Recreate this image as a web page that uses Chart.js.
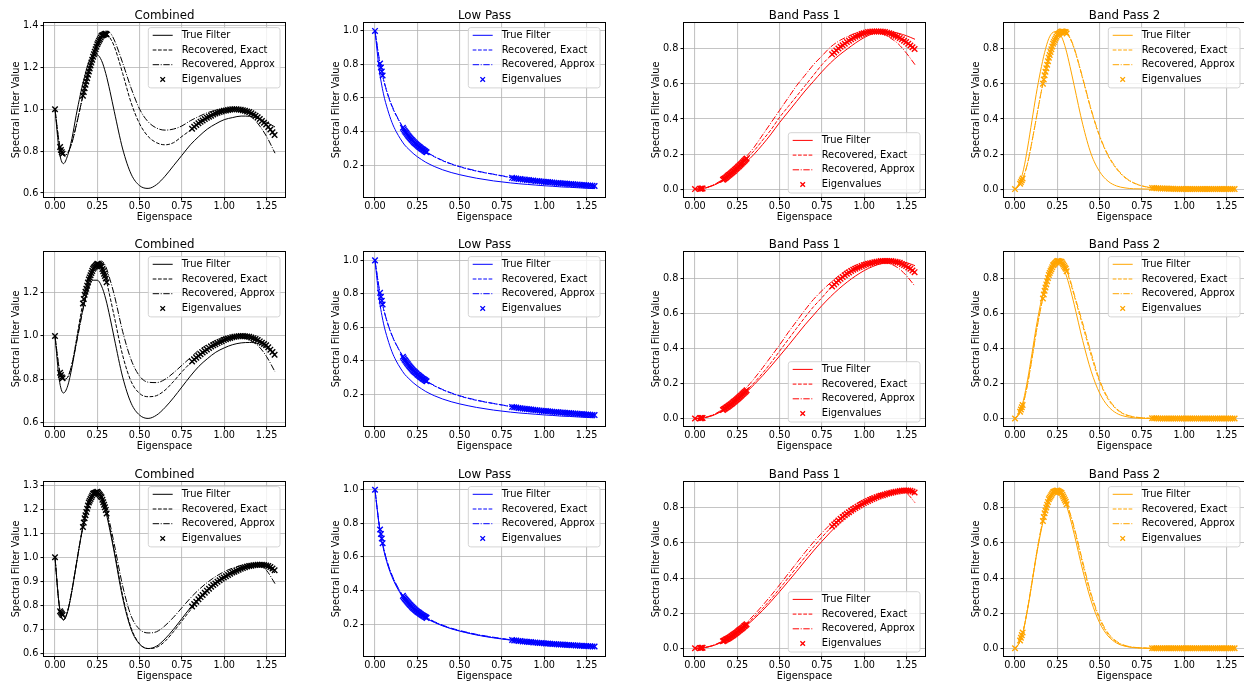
<!DOCTYPE html>
<html>
<head>
<meta charset="utf-8">
<script src="https://cdn.jsdelivr.net/npm/chart.js@4.4.1/dist/chart.umd.min.js"></script>
<style>
  html, body { margin: 0; padding: 0; background: #ffffff; }
  body { width: 1244px; height: 685px; overflow: hidden; position: relative; }
  canvas { position: absolute; }
</style>
</head>
<body>
<script>
// ---- sample grid for the filter curves ----
const XS = [0,0.025,0.05,0.075,0.1,0.125,0.15,0.175,0.2,0.225,0.25,0.275,0.3,0.325,0.35,0.4,0.45,0.5,0.55,0.6,0.65,0.7,0.75,0.8,0.85,0.9,0.95,1.0,1.05,1.1,1.15,1.2,1.25,1.3];

// ---- graph eigenvalues (shared by every panel) ----
const EIGENVALUES = [0, 0.03,0.035,0.04,0.045,
  0.165,0.17,0.175,0.18,0.185,0.19,0.195,0.2,0.205,0.21,0.215,0.22,0.225,0.23,0.235,
  0.24,0.245,0.25,0.255,0.26,0.265,0.27,0.275,0.28,0.285,0.29,0.295,0.3,0.305,
  0.81,0.8225,0.835,0.8475,0.86,0.8725,0.885,0.8975,0.91,0.9225,0.935,0.9475,0.96,0.9725,0.985,0.9975,
  1.01,1.0225,1.035,1.0475,1.06,1.0725,1.085,1.0975,1.11,1.1225,1.135,1.1475,1.16,1.1725,1.185,1.1975,
  1.21,1.2225,1.235,1.2475,1.26,1.2725,1.285,1.2975];

const X_TICKS = [0,0.25,0.5,0.75,1.0,1.25];
const TICKS_COMBINED_1 = [0.6,0.8,1.0,1.2,1.4];
const TICKS_COMBINED_2 = [0.6,0.8,1.0,1.2];
const TICKS_COMBINED_3 = [0.6,0.7,0.8,0.9,1.0,1.1,1.2,1.3];
const TICKS_LOW = [0.2,0.4,0.6,0.8,1.0];
const TICKS_BAND = [0.0,0.2,0.4,0.6,0.8];

// ---- row 1 ----
const combinedTrue1   = [1.0,0.80,0.74,0.78,0.86,0.97,1.07,1.155,1.225,1.257,1.258,1.232,1.17,1.085,0.99,0.81,0.69,0.635,0.622,0.64,0.68,0.73,0.78,0.83,0.87,0.905,0.93,0.95,0.96,0.967,0.966,0.955,0.937,0.915];
const combinedExact1  = [1.0,0.84,0.78,0.79,0.84,0.92,1.01,1.1,1.18,1.25,1.31,1.35,1.36,1.34,1.3,1.17,1.03,0.93,0.87,0.84,0.83,0.84,0.87,0.9,0.935,0.96,0.98,0.993,1.0,0.997,0.985,0.96,0.925,0.875];
const combinedApprox1 = [1.0,0.84,0.78,0.79,0.84,0.92,1.01,1.1,1.18,1.25,1.31,1.35,1.372,1.365,1.33,1.22,1.1,1.0,0.94,0.91,0.90,0.905,0.92,0.945,0.965,0.983,0.995,1.0,1.0,0.99,0.97,0.93,0.87,0.79];
const combinedEig1    = [1.0, 0.82,0.805,0.795,0.787,
  1.064,1.082,1.10,1.116,1.132,1.148,1.164,1.18,1.194,1.208,1.222,1.236,1.25,1.262,1.274,
  1.286,1.298,1.31,1.318,1.326,1.334,1.342,1.35,1.352,1.354,1.356,1.358,1.36,1.356,
  0.907,0.916,0.925,0.933,0.94,0.946,0.953,0.959,0.964,0.969,0.974,0.979,0.983,0.986,0.989,0.992,
  0.994,0.996,0.998,1.0,1.0,0.999,0.998,0.997,0.995,0.992,0.989,0.986,0.98,0.974,0.968,0.961,
  0.953,0.944,0.935,0.927,0.915,0.903,0.89,0.877];

const lowTrue1   = [1.0,0.77,0.625,0.53,0.455,0.40,0.357,0.32,0.294,0.27,0.25,0.233,0.217,0.204,0.192,0.172,0.156,0.143,0.132,0.122,0.114,0.106,0.1,0.094,0.089,0.085,0.081,0.077,0.074,0.07,0.068,0.065,0.062,0.06];
const lowExact1  = [1.0,0.83,0.71,0.62,0.55,0.495,0.45,0.405,0.37,0.342,0.318,0.298,0.28,0.264,0.25,0.226,0.206,0.19,0.176,0.164,0.154,0.145,0.135,0.126,0.118,0.112,0.106,0.101,0.096,0.092,0.088,0.084,0.08,0.076];
const lowApprox1 = [1.0,0.835,0.715,0.625,0.555,0.5,0.452,0.408,0.372,0.344,0.32,0.3,0.282,0.266,0.252,0.228,0.208,0.192,0.178,0.166,0.155,0.146,0.137,0.128,0.12,0.113,0.107,0.102,0.097,0.093,0.089,0.085,0.081,0.077];
const lowEig1    = [1.0, 0.806,0.782,0.758,0.734,
  0.423,0.414,0.405,0.398,0.391,0.384,0.377,0.37,0.364,0.359,0.353,0.348,0.342,0.337,0.332,
  0.328,0.323,0.318,0.314,0.31,0.306,0.302,0.298,0.294,0.291,0.287,0.284,0.28,0.277,
  0.124,0.122,0.12,0.118,0.117,0.115,0.114,0.112,0.111,0.109,0.108,0.106,0.105,0.104,0.102,0.101,
  0.1,0.099,0.098,0.096,0.095,0.094,0.093,0.092,0.091,0.09,0.089,0.088,0.087,0.086,0.085,0.084,
  0.083,0.082,0.081,0.08,0.079,0.078,0.077,0.076];

const band1True1   = [0,0.001,0.004,0.01,0.018,0.028,0.04,0.055,0.072,0.09,0.11,0.13,0.152,0.175,0.2,0.255,0.315,0.38,0.44,0.5,0.56,0.615,0.67,0.72,0.763,0.8,0.835,0.865,0.887,0.9,0.898,0.89,0.875,0.855];
const band1Exact1  = [0,0.001,0.004,0.01,0.02,0.03,0.045,0.06,0.08,0.1,0.122,0.145,0.17,0.195,0.22,0.28,0.34,0.41,0.47,0.53,0.59,0.65,0.71,0.76,0.805,0.84,0.87,0.89,0.9,0.9,0.89,0.87,0.84,0.8];
const band1Approx1 = [0,0.001,0.004,0.011,0.02,0.032,0.047,0.064,0.085,0.107,0.13,0.156,0.183,0.21,0.24,0.31,0.38,0.45,0.52,0.59,0.65,0.71,0.76,0.81,0.845,0.87,0.89,0.9,0.9,0.89,0.865,0.83,0.775,0.71];
const band1Eig1    = [0, 0.002,0.002,0.003,0.003,
  0.054,0.057,0.06,0.064,0.068,0.072,0.076,0.08,0.084,0.088,0.092,0.096,0.1,0.104,0.109,
  0.113,0.118,0.122,0.127,0.131,0.136,0.14,0.145,0.15,0.155,0.16,0.165,0.17,0.175,
  0.769,0.78,0.791,0.802,0.812,0.821,0.83,0.839,0.847,0.855,0.862,0.869,0.875,0.88,0.885,0.89,
  0.893,0.896,0.898,0.9,0.9,0.9,0.9,0.9,0.898,0.896,0.893,0.89,0.885,0.88,0.875,0.869,
  0.862,0.855,0.847,0.839,0.83,0.82,0.81,0.8];

const band2True1   = [0,0.03,0.11,0.24,0.39,0.54,0.67,0.78,0.86,0.895,0.9,0.87,0.8,0.7,0.59,0.37,0.2,0.1,0.045,0.018,0.007,0.002,0.001,0,0,0,0,0,0,0,0,0,0,0];
const band2Exact1  = [0,0.02,0.07,0.15,0.27,0.4,0.53,0.65,0.75,0.83,0.88,0.9,0.895,0.86,0.8,0.63,0.45,0.3,0.19,0.115,0.065,0.035,0.018,0.008,0.004,0.002,0.001,0,0,0,0,0,0,0];
const band2Approx1 = [0,0.02,0.07,0.15,0.27,0.4,0.53,0.65,0.75,0.83,0.88,0.9,0.898,0.865,0.805,0.635,0.455,0.305,0.195,0.12,0.068,0.037,0.019,0.009,0.004,0.002,0.001,0,0,0,0,0,0,0];
const band2Eig1    = [0, 0.03,0.04,0.05,0.06,
  0.602,0.626,0.65,0.67,0.69,0.71,0.73,0.75,0.766,0.782,0.798,0.814,0.83,0.84,0.85,
  0.86,0.87,0.88,0.884,0.888,0.892,0.896,0.9,0.899,0.898,0.897,0.896,0.895,0.888,
  0.007,0.006,0.005,0.005,0.004,0.004,0.003,0.003,0.002,0.002,0.002,0.001,0.001,0.001,0.001,0.001,
  0,0,0,0,0,0,0,0,0,0,0,0,0,0,0,0,
  0,0,0,0,0,0,0,0];

// ---- row 2 ----
const combinedTrue2   = [1.0,0.80,0.737,0.77,0.855,0.965,1.07,1.155,1.225,1.257,1.257,1.23,1.17,1.085,0.99,0.81,0.69,0.635,0.62,0.635,0.67,0.715,0.765,0.815,0.86,0.895,0.925,0.945,0.96,0.968,0.97,0.965,0.945,0.915];
const combinedExact2  = [1.0,0.85,0.80,0.81,0.87,0.975,1.09,1.19,1.26,1.31,1.333,1.32,1.265,1.18,1.09,0.91,0.79,0.735,0.72,0.725,0.75,0.79,0.835,0.875,0.91,0.94,0.965,0.983,0.995,1.0,0.995,0.98,0.955,0.91];
const combinedApprox2 = [1.0,0.85,0.80,0.81,0.87,0.96,1.06,1.16,1.24,1.3,1.335,1.345,1.32,1.26,1.19,1.02,0.89,0.815,0.787,0.785,0.8,0.83,0.865,0.9,0.935,0.96,0.98,0.995,1.0,0.995,0.98,0.955,0.905,0.835];
const combinedEig2    = [1.0, 0.83,0.82,0.81,0.805,
  1.15,1.17,1.19,1.204,1.218,1.232,1.246,1.26,1.27,1.28,1.29,1.30,1.31,1.315,1.319,
  1.324,1.328,1.333,1.33,1.328,1.325,1.323,1.32,1.309,1.298,1.287,1.276,1.265,1.248,
  0.882,0.891,0.9,0.908,0.916,0.924,0.931,0.938,0.945,0.951,0.957,0.962,0.967,0.972,0.976,0.981,
  0.985,0.988,0.991,0.994,0.996,0.998,0.999,1.0,1.0,0.999,0.998,0.996,0.993,0.99,0.986,0.981,
  0.975,0.969,0.963,0.957,0.948,0.937,0.926,0.913];

const lowTrue2   = [1.0,0.77,0.625,0.53,0.455,0.40,0.357,0.32,0.294,0.27,0.25,0.233,0.217,0.204,0.192,0.172,0.156,0.143,0.132,0.122,0.114,0.106,0.1,0.094,0.089,0.085,0.081,0.077,0.074,0.07,0.068,0.065,0.062,0.06];
const lowExact2  = [1.0,0.83,0.712,0.622,0.552,0.497,0.451,0.407,0.372,0.343,0.319,0.299,0.281,0.265,0.251,0.227,0.207,0.19,0.176,0.164,0.154,0.145,0.136,0.127,0.119,0.112,0.106,0.101,0.096,0.092,0.088,0.084,0.08,0.076];
const lowApprox2 = [1.0,0.832,0.714,0.624,0.554,0.499,0.453,0.409,0.374,0.345,0.321,0.301,0.283,0.267,0.253,0.229,0.209,0.192,0.178,0.166,0.155,0.146,0.137,0.128,0.12,0.113,0.107,0.102,0.097,0.093,0.089,0.085,0.081,0.077];
const lowEig2    = [1.0, 0.806,0.783,0.759,0.736,
  0.425,0.416,0.407,0.4,0.393,0.386,0.379,0.372,0.366,0.36,0.355,0.349,0.343,0.338,0.333,
  0.329,0.324,0.319,0.315,0.311,0.307,0.303,0.299,0.295,0.292,0.288,0.285,0.281,0.278,
  0.125,0.123,0.121,0.119,0.117,0.115,0.114,0.112,0.111,0.109,0.108,0.106,0.105,0.104,0.102,0.101,
  0.1,0.099,0.098,0.096,0.095,0.094,0.093,0.092,0.091,0.09,0.089,0.088,0.087,0.086,0.085,0.084,
  0.083,0.082,0.081,0.08,0.079,0.078,0.077,0.076];

const band1True2   = [0,0.001,0.003,0.008,0.015,0.025,0.037,0.051,0.067,0.085,0.104,0.125,0.147,0.17,0.194,0.245,0.3,0.357,0.415,0.475,0.535,0.59,0.645,0.695,0.74,0.78,0.815,0.845,0.868,0.885,0.895,0.897,0.89,0.873];
const band1Exact2  = [0,0.001,0.004,0.009,0.017,0.027,0.04,0.055,0.072,0.091,0.111,0.133,0.156,0.18,0.205,0.26,0.32,0.385,0.45,0.515,0.578,0.638,0.69,0.745,0.79,0.827,0.856,0.877,0.891,0.899,0.9,0.893,0.87,0.835];
const band1Approx2 = [0,0.001,0.004,0.01,0.019,0.03,0.044,0.06,0.079,0.1,0.122,0.146,0.172,0.199,0.228,0.29,0.355,0.42,0.49,0.555,0.62,0.68,0.73,0.775,0.815,0.85,0.875,0.892,0.9,0.898,0.885,0.86,0.815,0.755];
const band1Eig2    = [0, 0.002,0.002,0.003,0.003,
  0.049,0.052,0.055,0.058,0.062,0.065,0.069,0.072,0.076,0.08,0.083,0.087,0.091,0.095,0.099,
  0.103,0.107,0.111,0.115,0.12,0.124,0.129,0.133,0.138,0.142,0.147,0.151,0.156,0.161,
  0.754,0.766,0.777,0.788,0.798,0.808,0.818,0.827,0.834,0.842,0.849,0.855,0.861,0.866,0.871,0.876,
  0.88,0.884,0.887,0.89,0.893,0.895,0.897,0.899,0.899,0.9,0.9,0.9,0.899,0.897,0.895,0.893,
  0.889,0.883,0.877,0.871,0.863,0.855,0.845,0.836];

const band2True2   = [0,0.03,0.105,0.225,0.37,0.52,0.65,0.76,0.845,0.89,0.9,0.88,0.825,0.745,0.65,0.445,0.27,0.145,0.07,0.03,0.012,0.004,0.001,0,0,0,0,0,0,0,0,0,0,0];
const band2Exact2  = [0,0.025,0.09,0.2,0.34,0.49,0.62,0.73,0.82,0.875,0.9,0.895,0.855,0.785,0.7,0.53,0.36,0.21,0.11,0.052,0.022,0.009,0.003,0.001,0,0,0,0,0,0,0,0,0,0];
const band2Approx2 = [0,0.025,0.09,0.2,0.34,0.49,0.62,0.73,0.82,0.875,0.9,0.897,0.86,0.795,0.71,0.545,0.375,0.22,0.117,0.056,0.024,0.01,0.004,0.001,0,0,0,0,0,0,0,0,0,0];
const band2Eig2    = [0, 0.038,0.051,0.064,0.077,
  0.686,0.708,0.73,0.748,0.766,0.784,0.802,0.82,0.831,0.842,0.853,0.864,0.875,0.88,0.885,
  0.89,0.895,0.9,0.899,0.898,0.897,0.896,0.895,0.887,0.879,0.871,0.863,0.855,0.841,
  0.001,0.001,0.001,0,0,0,0,0,0,0,0,0,0,0,0,0,
  0,0,0,0,0,0,0,0,0,0,0,0,0,0,0,0,
  0,0,0,0,0,0,0,0];

// ---- row 3 ----
const combinedTrue3   = [1.0,0.80,0.738,0.775,0.86,0.965,1.07,1.16,1.225,1.262,1.27,1.245,1.19,1.11,1.02,0.83,0.70,0.638,0.62,0.63,0.66,0.70,0.745,0.79,0.83,0.865,0.895,0.92,0.94,0.955,0.964,0.968,0.96,0.935];
const combinedExact3  = [1.0,0.80,0.74,0.777,0.862,0.967,1.072,1.162,1.228,1.264,1.272,1.25,1.197,1.12,1.03,0.84,0.705,0.64,0.62,0.625,0.65,0.69,0.735,0.78,0.82,0.858,0.89,0.915,0.936,0.952,0.964,0.971,0.97,0.945];
const combinedApprox3 = [1.0,0.80,0.74,0.777,0.862,0.967,1.07,1.16,1.228,1.264,1.272,1.255,1.208,1.138,1.055,0.88,0.755,0.7,0.685,0.69,0.715,0.75,0.79,0.83,0.865,0.895,0.92,0.94,0.955,0.966,0.972,0.97,0.945,0.89];
const combinedEig3    = [1.0, 0.775,0.77,0.765,0.76,
  1.126,1.144,1.162,1.175,1.188,1.202,1.215,1.228,1.235,1.242,1.25,1.257,1.264,1.266,1.267,
  1.269,1.27,1.272,1.268,1.263,1.259,1.254,1.25,1.239,1.229,1.218,1.208,1.197,1.182,
  0.795,0.805,0.815,0.825,0.834,0.843,0.852,0.861,0.869,0.877,0.884,0.891,0.898,0.904,0.91,0.916,
  0.921,0.926,0.931,0.936,0.94,0.944,0.948,0.952,0.955,0.958,0.961,0.963,0.965,0.967,0.968,0.969,
  0.969,0.969,0.968,0.966,0.963,0.959,0.953,0.946];

const lowTrue3   = [1.0,0.785,0.648,0.552,0.482,0.427,0.383,0.347,0.316,0.291,0.27,0.252,0.236,0.222,0.21,0.189,0.172,0.158,0.146,0.135,0.126,0.118,0.111,0.105,0.099,0.094,0.089,0.085,0.081,0.077,0.074,0.071,0.068,0.065];
const lowExact3  = [1.0,0.79,0.655,0.56,0.49,0.435,0.39,0.353,0.322,0.296,0.274,0.256,0.24,0.226,0.213,0.192,0.174,0.16,0.148,0.137,0.128,0.12,0.113,0.106,0.1,0.095,0.09,0.086,0.082,0.078,0.075,0.072,0.069,0.066];
const lowApprox3 = [1.0,0.792,0.658,0.563,0.493,0.438,0.393,0.356,0.325,0.299,0.277,0.258,0.242,0.228,0.215,0.194,0.176,0.162,0.15,0.139,0.13,0.122,0.114,0.107,0.101,0.096,0.091,0.087,0.083,0.079,0.076,0.073,0.07,0.067];
const lowEig3    = [1.0, 0.763,0.736,0.709,0.682,
  0.368,0.36,0.353,0.347,0.341,0.334,0.328,0.322,0.317,0.312,0.306,0.301,0.296,0.292,0.287,
  0.283,0.278,0.274,0.27,0.267,0.263,0.26,0.256,0.253,0.25,0.246,0.243,0.24,0.237,
  0.105,0.103,0.102,0.1,0.099,0.097,0.096,0.095,0.094,0.093,0.091,0.09,0.089,0.088,0.087,0.086,
  0.085,0.084,0.083,0.082,0.081,0.08,0.079,0.078,0.078,0.077,0.076,0.075,0.074,0.074,0.073,0.072,
  0.071,0.071,0.07,0.069,0.068,0.068,0.067,0.066];

const band1True3   = [0,0.001,0.003,0.007,0.013,0.021,0.031,0.043,0.056,0.071,0.088,0.106,0.126,0.147,0.169,0.216,0.268,0.323,0.38,0.438,0.497,0.555,0.61,0.662,0.71,0.752,0.79,0.822,0.848,0.868,0.884,0.894,0.898,0.896];
const band1Exact3  = [0,0.001,0.003,0.008,0.014,0.022,0.033,0.045,0.059,0.075,0.093,0.112,0.133,0.155,0.178,0.228,0.282,0.34,0.4,0.46,0.52,0.578,0.633,0.685,0.731,0.772,0.807,0.837,0.86,0.877,0.89,0.898,0.9,0.885];
const band1Approx3 = [0,0.001,0.003,0.008,0.015,0.024,0.035,0.048,0.063,0.08,0.099,0.12,0.142,0.166,0.191,0.245,0.302,0.362,0.424,0.486,0.547,0.605,0.658,0.707,0.751,0.789,0.822,0.849,0.87,0.885,0.895,0.9,0.885,0.83];
const band1Eig3    = [0, 0.002,0.002,0.003,0.003,
  0.04,0.043,0.045,0.048,0.051,0.053,0.056,0.059,0.062,0.065,0.069,0.072,0.075,0.079,0.082,
  0.086,0.089,0.093,0.097,0.101,0.104,0.108,0.112,0.116,0.12,0.125,0.129,0.133,0.137,
  0.695,0.706,0.717,0.728,0.738,0.748,0.758,0.767,0.776,0.784,0.792,0.8,0.807,0.814,0.821,0.828,
  0.834,0.84,0.845,0.851,0.856,0.861,0.865,0.869,0.873,0.877,0.881,0.884,0.887,0.89,0.892,0.894,
  0.896,0.898,0.899,0.9,0.9,0.898,0.894,0.888];

const band2True3   = [0,0.03,0.105,0.225,0.37,0.52,0.65,0.76,0.845,0.89,0.9,0.88,0.825,0.745,0.65,0.445,0.27,0.145,0.07,0.03,0.012,0.004,0.001,0,0,0,0,0,0,0,0,0,0,0];
const band2Exact3  = [0,0.03,0.105,0.23,0.375,0.525,0.66,0.77,0.85,0.89,0.9,0.885,0.835,0.765,0.68,0.48,0.3,0.165,0.08,0.035,0.014,0.005,0.002,0,0,0,0,0,0,0,0,0,0,0];
const band2Approx3 = [0,0.03,0.105,0.23,0.375,0.525,0.66,0.77,0.85,0.89,0.9,0.887,0.84,0.772,0.69,0.495,0.31,0.175,0.087,0.04,0.016,0.006,0.002,0,0,0,0,0,0,0,0,0,0,0];
const band2Eig3    = [0, 0.045,0.06,0.075,0.09,
  0.726,0.748,0.77,0.786,0.802,0.818,0.834,0.85,0.858,0.866,0.874,0.882,0.89,0.892,0.894,
  0.896,0.898,0.9,0.897,0.894,0.891,0.888,0.885,0.875,0.865,0.855,0.845,0.835,0.821,
  0,0,0,0,0,0,0,0,0,0,0,0,0,0,0,0,
  0,0,0,0,0,0,0,0,0,0,0,0,0,0,0,0,
  0,0,0,0,0,0,0,0];

// ---- figure layout (pixels) ----
const FONT = '"DejaVu Sans", "Liberation Sans", sans-serif';
const AX_LEFT = [44, 364, 684, 1004];
const AX_TOP = [23, 252, 482];
const AX_W = 241, AX_H = 174;
const Y_AXIS_W = 44, X_AXIS_H = 30, TITLE_H = 22, RIGHT_PAD = 6;
const X_LIMITS = [-0.065, 1.359];

const COLORS = {combined: '#000000', low: '#0000ff', band1: '#ff0000', band2: '#ffa500'};
const DASH_EXACT = [3.7, 1.6];
const DASH_APPROX = [6.4, 1.6, 1.0, 1.6];

const panels = [
  {row:0, col:0, title:'Combined',    color:COLORS.combined, t:combinedTrue1, e:combinedExact1, a:combinedApprox1, k:combinedEig1, ylim:[0.581,1.411], yt:TICKS_COMBINED_1, leg:'upper'},
  {row:0, col:1, title:'Low Pass',    color:COLORS.low,      t:lowTrue1,      e:lowExact1,      a:lowApprox1,      k:lowEig1,      ylim:[0.010,1.047], yt:TICKS_LOW,        leg:'upper'},
  {row:0, col:2, title:'Band Pass 1', color:COLORS.band1,    t:band1True1,    e:band1Exact1,    a:band1Approx1,    k:band1Eig1,    ylim:[-0.045,0.948], yt:TICKS_BAND,      leg:'lower'},
  {row:0, col:3, title:'Band Pass 2', color:COLORS.band2,    t:band2True1,    e:band2Exact1,    a:band2Approx1,    k:band2Eig1,    ylim:[-0.045,0.948], yt:TICKS_BAND,      leg:'upper'},
  {row:1, col:0, title:'Combined',    color:COLORS.combined, t:combinedTrue2, e:combinedExact2, a:combinedApprox2, k:combinedEig2, ylim:[0.585,1.387], yt:TICKS_COMBINED_2, leg:'upper'},
  {row:1, col:1, title:'Low Pass',    color:COLORS.low,      t:lowTrue2,      e:lowExact2,      a:lowApprox2,      k:lowEig2,      ylim:[0.011,1.050], yt:TICKS_LOW,        leg:'upper'},
  {row:1, col:2, title:'Band Pass 1', color:COLORS.band1,    t:band1True2,    e:band1Exact2,    a:band1Approx2,    k:band1Eig2,    ylim:[-0.043,0.951], yt:TICKS_BAND,      leg:'lower'},
  {row:1, col:3, title:'Band Pass 2', color:COLORS.band2,    t:band2True2,    e:band2Exact2,    a:band2Approx2,    k:band2Eig2,    ylim:[-0.043,0.951], yt:TICKS_BAND,      leg:'upper'},
  {row:2, col:0, title:'Combined',    color:COLORS.combined, t:combinedTrue3, e:combinedExact3, a:combinedApprox3, k:combinedEig3, ylim:[0.589,1.313], yt:TICKS_COMBINED_3, leg:'upper'},
  {row:2, col:1, title:'Low Pass',    color:COLORS.low,      t:lowTrue3,      e:lowExact3,      a:lowApprox3,      k:lowEig3,      ylim:[0.010,1.046], yt:TICKS_LOW,        leg:'upper'},
  {row:2, col:2, title:'Band Pass 1', color:COLORS.band1,    t:band1True3,    e:band1Exact3,    a:band1Approx3,    k:band1Eig3,    ylim:[-0.044,0.948], yt:TICKS_BAND,      leg:'lower'},
  {row:2, col:3, title:'Band Pass 2', color:COLORS.band2,    t:band2True3,    e:band2Exact3,    a:band2Approx3,    k:band2Eig3,    ylim:[-0.044,0.948], yt:TICKS_BAND,      leg:'upper'}
];

const toPoints = (xs, ys) => xs.map((x, i) => ({x: x, y: ys[i]}));

// Frame around the plot area plus a matplotlib-style legend box
const mplDecor = {
  id: 'mplDecor',
  afterDatasetsDraw(chart, args, opts) {
    const ctx = chart.ctx;
    const a = chart.chartArea;
    ctx.save();
    ctx.strokeStyle = '#000000';
    ctx.lineWidth = 1;
    ctx.setLineDash([]);
    ctx.strokeRect(Math.round(a.left) - 0.5, Math.round(a.top) - 0.5,
                   Math.round(a.right - a.left) + 1, Math.round(a.bottom - a.top) + 1);

    const w = 131.7, h = 60.3, r = 2.5;
    const bx = a.right - 5 - w;
    const by = opts.pos === 'lower' ? a.bottom - 4 - h : a.top + 4.6;
    ctx.beginPath();
    ctx.moveTo(bx + r, by);
    ctx.lineTo(bx + w - r, by); ctx.arcTo(bx + w, by, bx + w, by + r, r);
    ctx.lineTo(bx + w, by + h - r); ctx.arcTo(bx + w, by + h, bx + w - r, by + h, r);
    ctx.lineTo(bx + r, by + h); ctx.arcTo(bx, by + h, bx, by + h - r, r);
    ctx.lineTo(bx, by + r); ctx.arcTo(bx, by, bx + r, by, r);
    ctx.closePath();
    ctx.fillStyle = 'rgba(255,255,255,0.8)';
    ctx.fill();
    ctx.strokeStyle = '#d4d4d4';
    ctx.lineWidth = 1;
    ctx.stroke();

    ctx.font = '9.9px ' + FONT;
    ctx.textBaseline = 'middle';
    ctx.textAlign = 'left';
    chart.data.datasets.forEach((ds, i) => {
      const y = by + 7.7 + i * 14.7;
      ctx.strokeStyle = ds.borderColor;
      ctx.lineWidth = 1;
      if (ds.type === 'scatter') {
        const cx = bx + 14.4, d = 2.3;
        ctx.lineWidth = 1.3;
        ctx.setLineDash([]);
        ctx.beginPath();
        ctx.moveTo(cx - d, y - d); ctx.lineTo(cx + d, y + d);
        ctx.moveTo(cx - d, y + d); ctx.lineTo(cx + d, y - d);
        ctx.stroke();
      } else {
        ctx.setLineDash(ds.borderDash || []);
        ctx.beginPath();
        ctx.moveTo(bx + 4.4, y); ctx.lineTo(bx + 24.4, y);
        ctx.stroke();
      }
      ctx.setLineDash([]);
      ctx.fillStyle = '#000000';
      ctx.fillText(ds.label, bx + 33.4, y);
    });
    ctx.restore();
  }
};

Chart.defaults.font.family = FONT;
Chart.defaults.color = '#000000';

const gridStyle = {
  color: 'rgba(176,176,176,0.75)',
  lineWidth: 1.1,
  drawTicks: true,
  tickLength: 3.5,
  tickColor: '#000000',
  tickWidth: 1
};

panels.forEach(p => {
  const cw = Y_AXIS_W + AX_W + RIGHT_PAD;
  const chh = TITLE_H + AX_H + X_AXIS_H;
  const canvas = document.createElement('canvas');
  canvas.width = cw; canvas.height = chh;
  canvas.style.width = cw + 'px'; canvas.style.height = chh + 'px';
  canvas.style.left = (AX_LEFT[p.col] - Y_AXIS_W) + 'px';
  canvas.style.top = (AX_TOP[p.row] - TITLE_H) + 'px';
  document.body.appendChild(canvas);

  const line = (label, ys, dash, order) => ({
    type: 'line', label: label, data: toPoints(XS, ys),
    borderColor: p.color, backgroundColor: p.color, borderWidth: 1,
    borderDash: dash, pointRadius: 0, fill: false,
    cubicInterpolationMode: 'monotone', order: order
  });

  new Chart(canvas, {
    type: 'line',
    data: {
      datasets: [
        line('True Filter', p.t, [], 3),
        line('Recovered, Exact', p.e, DASH_EXACT, 2),
        line('Recovered, Approx', p.a, DASH_APPROX, 1),
        {
          type: 'scatter', label: 'Eigenvalues', data: toPoints(EIGENVALUES, p.k),
          pointStyle: 'crossRot', pointRadius: 3.9, borderWidth: 1.4,
          borderColor: p.color, backgroundColor: p.color, order: 0
        }
      ]
    },
    options: {
      responsive: false,
      animation: false,
      events: [],
      layout: {padding: {left: 0, right: RIGHT_PAD, top: 0, bottom: 0}},
      plugins: {
        legend: {display: false},
        tooltip: {enabled: false},
        title: {
          display: true, text: p.title, fullSize: false, color: '#000000',
          font: {family: FONT, size: 11.8, weight: 'normal'},
          padding: {top: 7.6, bottom: 0.24}
        },
        mplDecor: {pos: p.leg}
      },
      scales: {
        x: {
          type: 'linear', min: X_LIMITS[0], max: X_LIMITS[1],
          afterBuildTicks: s => { s.ticks = X_TICKS.map(v => ({value: v})); },
          afterFit: s => { s.height = X_AXIS_H; },
          ticks: {
            autoSkip: false, maxRotation: 0, padding: 0.5, color: '#000000',
            font: {family: FONT, size: 9.7},
            callback: v => Number(v).toFixed(2)
          },
          grid: gridStyle,
          border: {display: false},
          title: {
            display: true, text: 'Eigenspace', color: '#000000',
            font: {family: FONT, size: 9.7}, padding: {top: 0, bottom: 3.7}
          }
        },
        y: {
          type: 'linear', min: p.ylim[0], max: p.ylim[1],
          afterBuildTicks: s => { s.ticks = p.yt.map(v => ({value: v})); },
          afterFit: s => { s.width = Y_AXIS_W; },
          ticks: {
            autoSkip: false, padding: 2.2, color: '#000000',
            font: {family: FONT, size: 9.7},
            callback: v => Number(v).toFixed(1)
          },
          grid: gridStyle,
          border: {display: false},
          title: {
            display: true, text: 'Spectral Filter Value', color: '#000000',
            font: {family: FONT, size: 9.7}, padding: {top: 10.9, bottom: 0}
          }
        }
      }
    },
    plugins: [mplDecor]
  });
});
</script>
</body>
</html>
